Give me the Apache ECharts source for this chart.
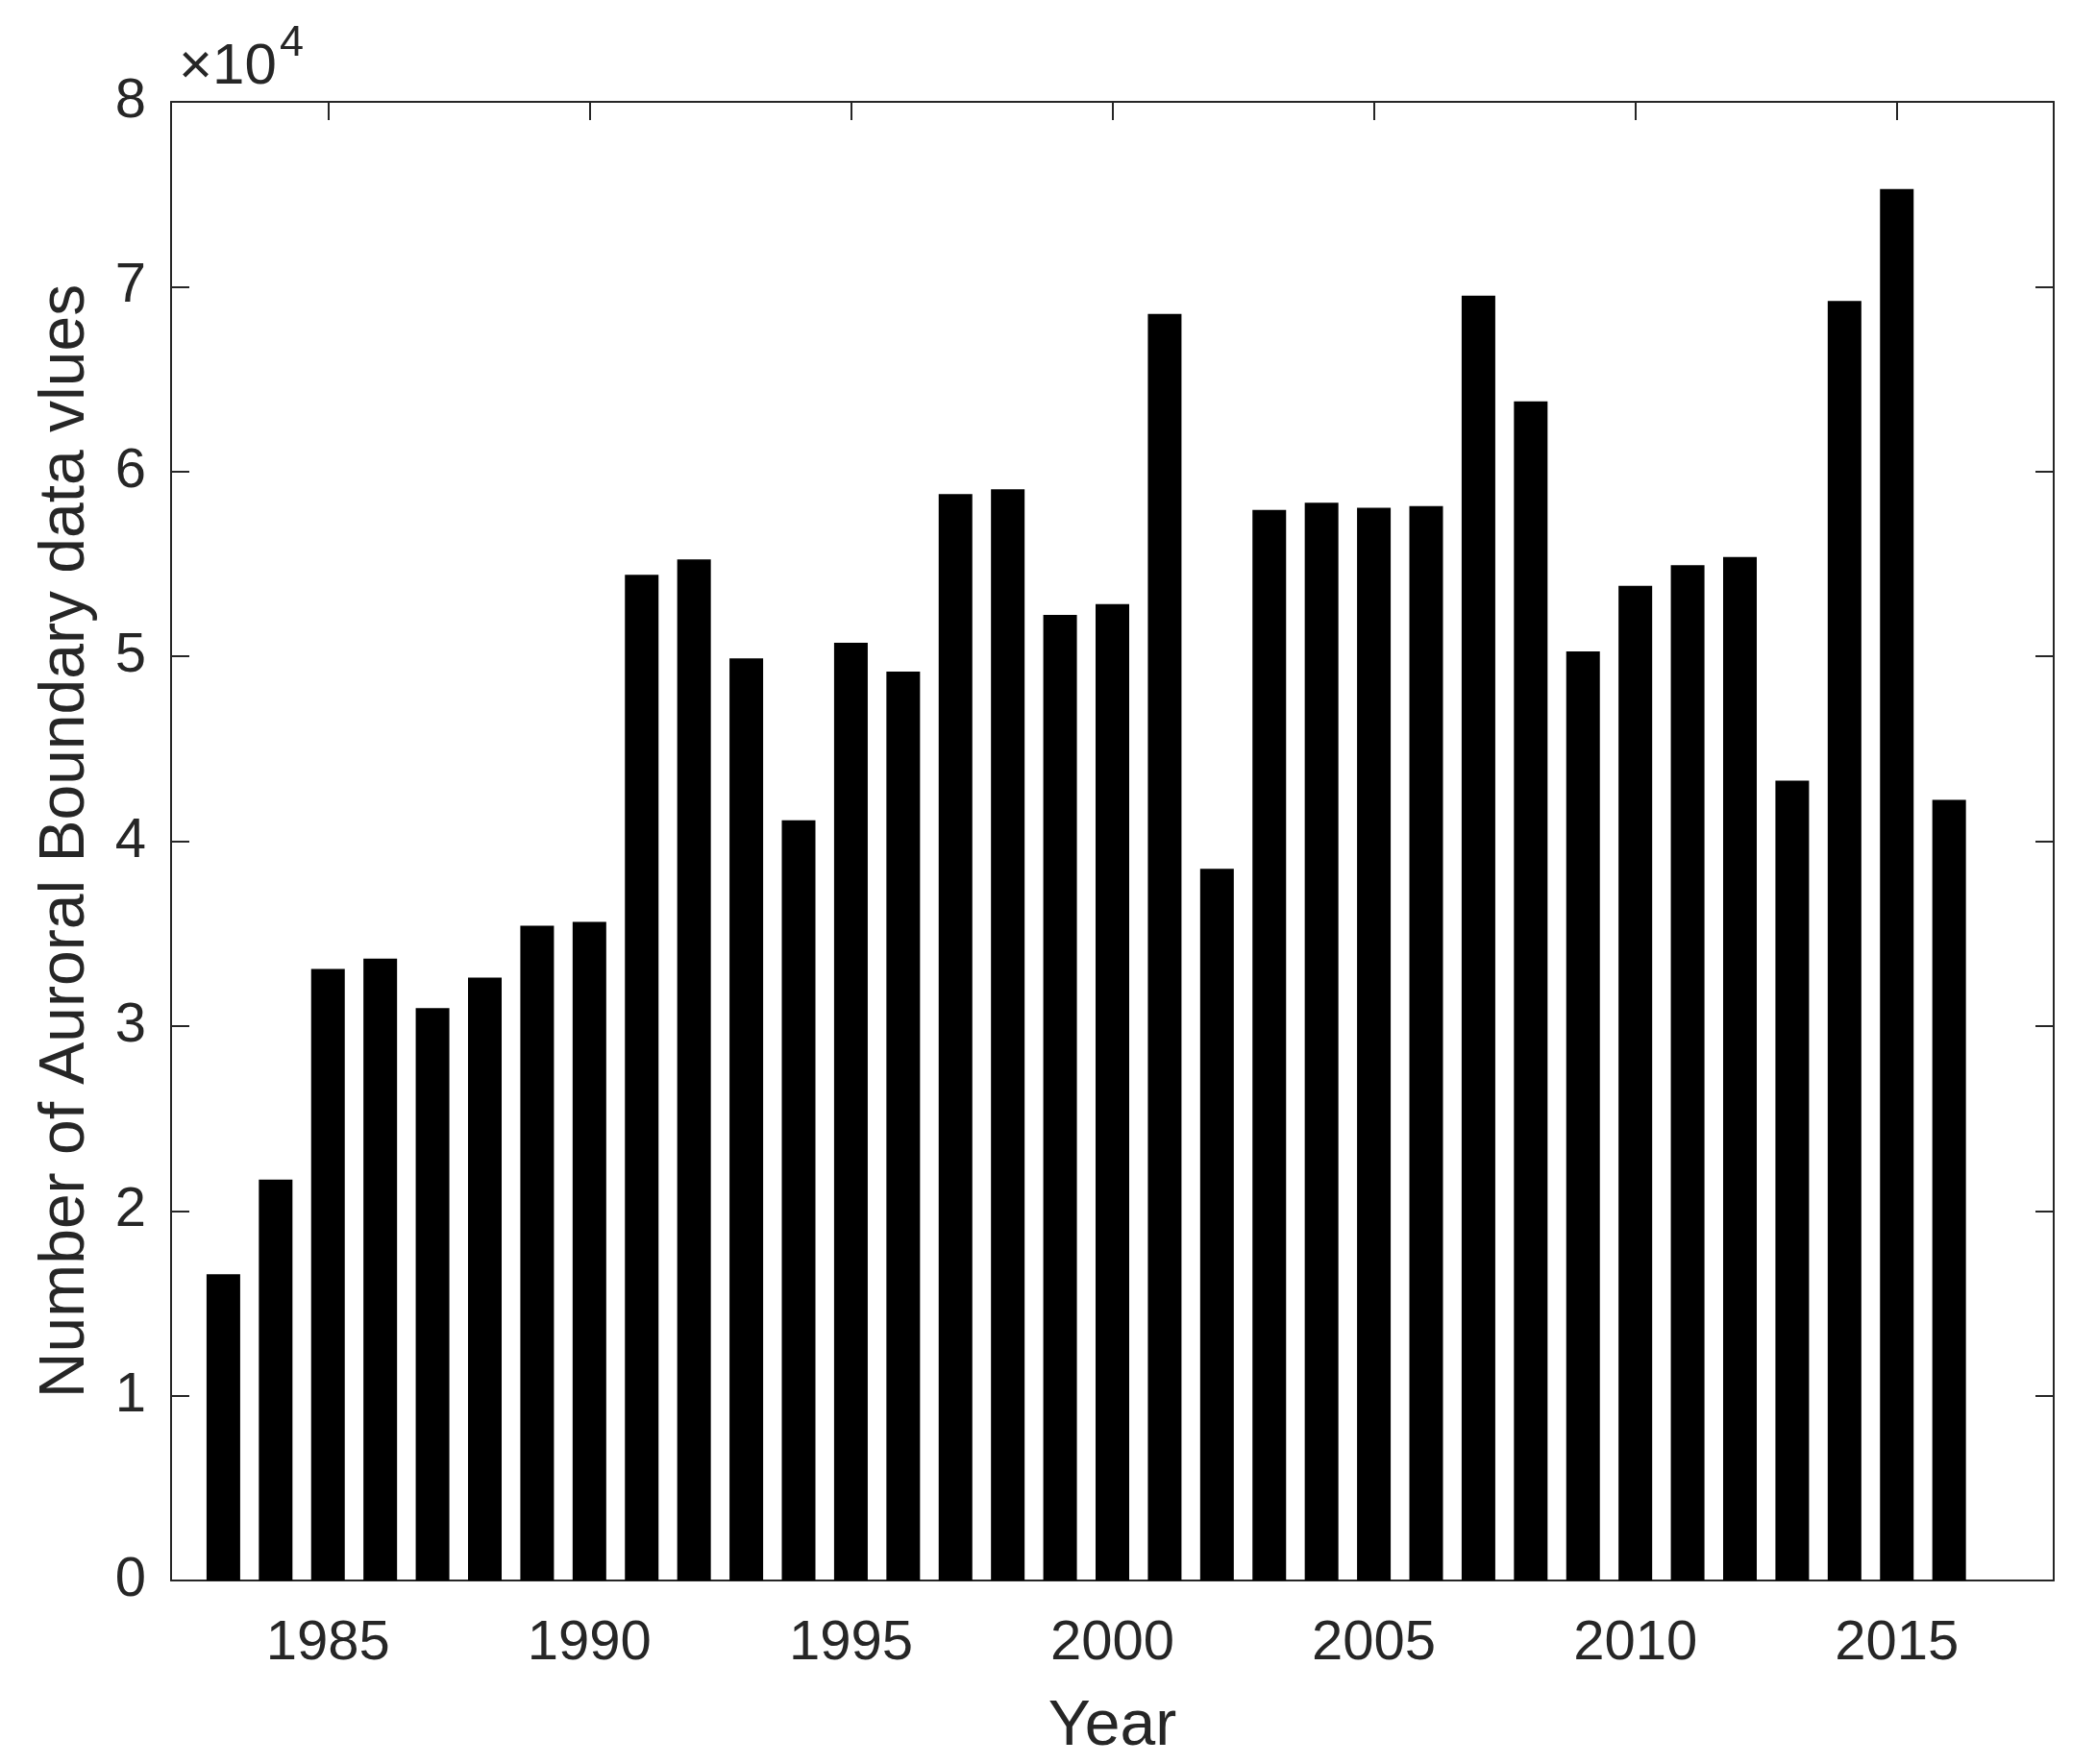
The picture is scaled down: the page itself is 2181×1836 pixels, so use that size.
<!DOCTYPE html>
<html>
<head>
<meta charset="utf-8">
<script src="https://cdn.jsdelivr.net/npm/echarts@6/dist/echarts.min.js"></script>
<style>
  html, body { margin: 0; padding: 0; background: #fff; }
  #main { width: 2181px; height: 1836px; }
</style>
</head>
<body>
<div id="main"></div>
<script>
var years = [1983, 1984, 1985, 1986, 1987, 1988, 1989, 1990, 1991, 1992, 1993, 1994,
  1995, 1996, 1997, 1998, 1999, 2000, 2001, 2002, 2003, 2004, 2005, 2006, 2007, 2008,
  2009, 2010, 2011, 2012, 2013, 2014, 2015, 2016];
var counts = [16570, 21690, 33080, 33650, 30970, 32620, 35420, 35630, 54410, 55250, 49890, 41130,
  50740, 49180, 58780, 59040, 52240, 52830, 68520, 38510, 57920, 58310, 58040, 58130, 69510, 63800,
  50260, 53820, 54930, 55380, 43280, 69230, 75280, 42230];
var yearTicks = [1985, 1990, 1995, 2000, 2005, 2010, 2015];
var yMax = 80000;
var yStep = 10000;

var font = '"Liberation Sans", Arial, Helvetica, sans-serif';
var ink = '#262626';

var chartDom = document.getElementById("main");
var myChart = echarts.init(chartDom);

var barData = years.map(function (y, i) { return [y, counts[i]]; });

var axisLine = { show: true, onZero: false, lineStyle: { color: ink, width: 2 } };

var option = {
  backgroundColor: '#fff',
  animation: false,
  grid: { left: 178, right: 44, top: 106, bottom: 188 },
  xAxis: [
    {
      type: 'value',
      min: 1982,
      max: 2018,
      position: 'bottom',
      name: 'Year',
      nameLocation: 'middle',
      nameGap: 120,
      nameTextStyle: { fontFamily: font, fontSize: 66, color: ink },
      axisLine: axisLine,
      axisTick: { show: true, inside: true, length: 19, customValues: yearTicks, lineStyle: { color: ink, width: 2 } },
      axisLabel: {
        customValues: yearTicks, margin: 37, fontFamily: font, fontSize: 58, color: ink,
        formatter: function (v) { return String(v); }
      },
      splitLine: { show: false }
    },
    {
      type: 'value',
      min: 1982,
      max: 2018,
      position: 'top',
      axisLine: axisLine,
      axisTick: { show: true, inside: true, length: 19, customValues: yearTicks, lineStyle: { color: ink, width: 2 } },
      axisLabel: { show: false, customValues: yearTicks },
      splitLine: { show: false }
    }
  ],
  yAxis: [
    {
      type: 'value',
      min: 0,
      max: yMax,
      interval: yStep,
      position: 'left',
      name: 'Number of Auroral Boundary data vlues',
      nameLocation: 'middle',
      nameGap: 76,
      nameTextStyle: { fontFamily: font, fontSize: 66, color: ink },
      axisLine: axisLine,
      axisTick: { show: true, inside: true, length: 19, lineStyle: { color: ink, width: 2 } },
      axisLabel: {
        margin: 26, fontFamily: font, fontSize: 58, color: ink,
        formatter: function (v) { return String(v / 10000); }
      },
      splitLine: { show: false }
    },
    {
      type: 'value',
      min: 0,
      max: yMax,
      interval: yStep,
      position: 'right',
      axisLine: axisLine,
      axisTick: { show: true, inside: true, length: 19, lineStyle: { color: ink, width: 2 } },
      axisLabel: { show: false },
      splitLine: { show: false }
    }
  ],
  // exponent marker above the y axis
  graphic: [
    {
      type: 'text',
      style: { x: 186, y: 70, text: '×10', fontFamily: font, fontSize: 60, fill: ink, verticalAlign: 'middle' }
    },
    {
      type: 'text',
      style: { x: 291, y: 46, text: '4', fontFamily: font, fontSize: 45, fill: ink, verticalAlign: 'middle' }
    }
  ],
  series: [
    {
      name: 'Auroral Boundary data',
      type: 'bar',
      xAxisIndex: 0,
      yAxisIndex: 0,
      barWidth: 35,
      data: barData,
      itemStyle: { color: '#000' }
    }
  ]
};

myChart.setOption(option);
</script>
</body>
</html>
